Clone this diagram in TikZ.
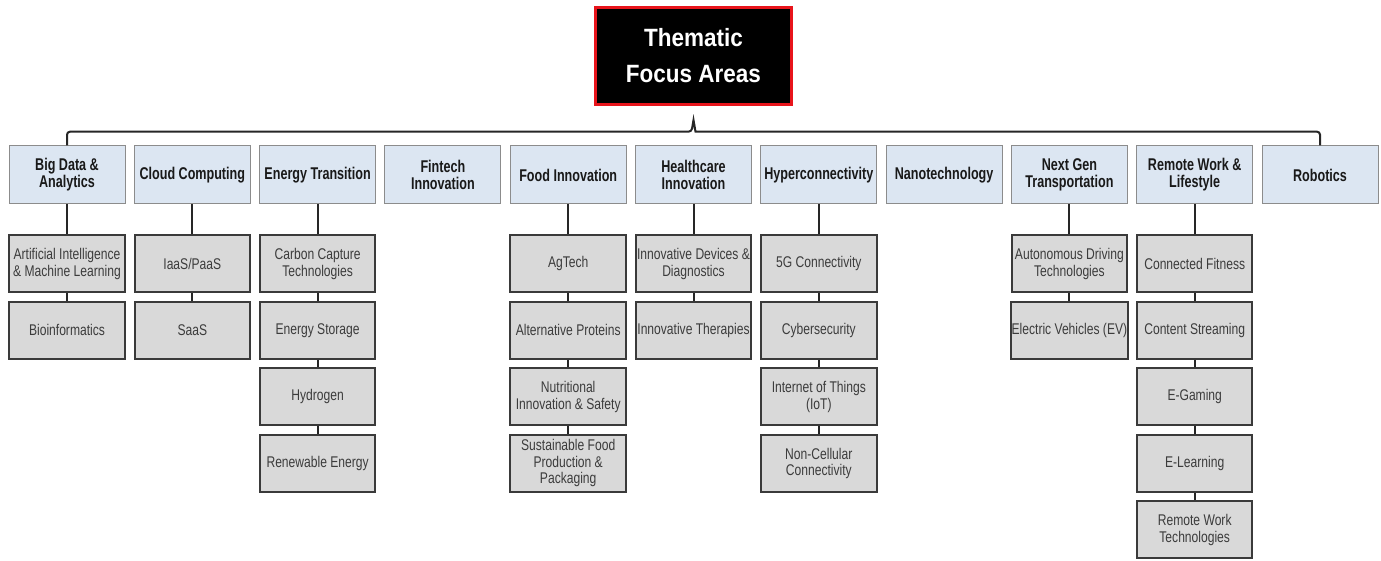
\documentclass[tikz,border=0pt]{standalone}
\usepackage{fontspec}
\setmainfont{Liberation Sans}
\newfontfamily\leaffont{Liberation Sans}[FakeStretch=0.78]
\newfontfamily\catfont{Liberation Sans}[FakeStretch=0.74]
\newfontfamily\titlefont{Liberation Sans}[FakeStretch=0.9]
\definecolor{catblue}{HTML}{DCE6F2}
\definecolor{catline}{HTML}{8C8C8C}
\definecolor{leafgray}{HTML}{D9D9D9}
\definecolor{leafline}{HTML}{3A3A3A}
\definecolor{leaftext}{HTML}{3C3C3C}
\definecolor{titlered}{HTML}{E8141B}
\tikzset{
  titlebox/.style={draw=titlered, line width=3pt, fill=black, text=white,
    minimum width=196pt, minimum height=97pt, align=center,
    font=\titlefont\bfseries\fontsize{25}{36}\selectfont},
  catbox/.style={draw=catline, line width=1pt, fill=catblue, text=black!90,
    minimum width=116pt, minimum height=58pt, align=center, inner sep=1pt,
    font=\catfont\bfseries\fontsize{17}{17}\selectfont},
  leafbox/.style={draw=leafline, line width=2pt, fill=leafgray, text=leaftext,
    minimum width=115.5pt, minimum height=57pt, align=center, inner sep=1pt,
    font=\leaffont\fontsize{15.5}{16.5}\selectfont},
  link/.style={draw=black!85, line width=2pt},
}
\begin{document}
\begin{tikzpicture}[x=1pt,y=-1pt]
\useasboundingbox (0,0) rectangle (1381,561);
\node[titlebox] (top) at (693.5,56) {Thematic\\Focus Areas};

% categories
\node[catbox] (c0) at (67,175) {Big Data \&\\Analytics};
\node[catbox] (c1) at (192.3,175) {Cloud Computing};
\node[catbox] (c2) at (317.6,175) {Energy Transition};
\node[catbox] (c3) at (442.9,175) {Fintech\\Innovation};
\node[catbox] (c4) at (568.2,175) {Food Innovation};
\node[catbox] (c5) at (693.5,175) {Healthcare\\Innovation};
\node[catbox] (c6) at (818.8,175) {Hyperconnectivity};
\node[catbox] (c7) at (944.1,175) {Nanotechnology};
\node[catbox] (c8) at (1069.4,175) {Next Gen\\Transportation};
\node[catbox] (c9) at (1194.7,175) {Remote Work \&\\Lifestyle};
\node[catbox] (c10) at (1320,175) {Robotics};

% bracket
\coordinate (tipL) at (691.5,131.7);
\coordinate (tipT) at (693.5,120);
\coordinate (tipR) at (695.5,131.7);
\draw[link, line width=2pt] (c0.north) [rounded corners=3pt] |- (tipL) [sharp corners] -- (tipT) -- (tipR) [rounded corners=3pt] -| (c10.north);

% leaves: rows centers 263.75, 330.25, 396.75, 463.25, 529.75
\node[leafbox] (l0a) at (67,263.75) {Artificial Intelligence\\\& Machine Learning};
\node[leafbox] (l0b) at (67,330.25) {Bioinformatics};

\node[leafbox] (l1a) at (192.3,263.75) {IaaS/PaaS};
\node[leafbox] (l1b) at (192.3,330.25) {SaaS};

\node[leafbox] (l2a) at (317.6,263.75) {Carbon Capture\\Technologies};
\node[leafbox] (l2b) at (317.6,330.25) {Energy Storage};
\node[leafbox] (l2c) at (317.6,396.75) {Hydrogen};
\node[leafbox] (l2d) at (317.6,463.25) {Renewable Energy};

\node[leafbox] (l4a) at (568.2,263.75) {AgTech};
\node[leafbox] (l4b) at (568.2,330.25) {Alternative Proteins};
\node[leafbox] (l4c) at (568.2,396.75) {Nutritional\\Innovation \& Safety};
\node[leafbox] (l4d) at (568.2,463.25) {Sustainable Food\\Production \&\\Packaging};

\node[leafbox] (l5a) at (693.5,263.75) {Innovative Devices \&\\Diagnostics};
\node[leafbox] (l5b) at (693.5,330.25) {Innovative Therapies};

\node[leafbox] (l6a) at (818.8,263.75) {5G Connectivity};
\node[leafbox] (l6b) at (818.8,330.25) {Cybersecurity};
\node[leafbox] (l6c) at (818.8,396.75) {Internet of Things\\(IoT)};
\node[leafbox] (l6d) at (818.8,463.25) {Non-Cellular\\Connectivity};

\node[leafbox] (l8a) at (1069.4,263.75) {Autonomous Driving\\Technologies};
\node[leafbox] (l8b) at (1069.4,330.25) {Electric Vehicles (EV)};

\node[leafbox] (l9a) at (1194.7,263.75) {Connected Fitness};
\node[leafbox] (l9b) at (1194.7,330.25) {Content Streaming};
\node[leafbox] (l9c) at (1194.7,396.75) {E-Gaming};
\node[leafbox] (l9d) at (1194.7,463.25) {E-Learning};
\node[leafbox] (l9e) at (1194.7,529.75) {Remote Work\\Technologies};

% connectors
\draw[link] (c0.south) -- (l0a.north); \draw[link] (l0a.south) -- (l0b.north);
\draw[link] (c1.south) -- (l1a.north); \draw[link] (l1a.south) -- (l1b.north);
\draw[link] (c2.south) -- (l2a.north); \draw[link] (l2a.south) -- (l2b.north);
\draw[link] (l2b.south) -- (l2c.north); \draw[link] (l2c.south) -- (l2d.north);
\draw[link] (c4.south) -- (l4a.north); \draw[link] (l4a.south) -- (l4b.north);
\draw[link] (l4b.south) -- (l4c.north); \draw[link] (l4c.south) -- (l4d.north);
\draw[link] (c5.south) -- (l5a.north); \draw[link] (l5a.south) -- (l5b.north);
\draw[link] (c6.south) -- (l6a.north); \draw[link] (l6a.south) -- (l6b.north);
\draw[link] (l6b.south) -- (l6c.north); \draw[link] (l6c.south) -- (l6d.north);
\draw[link] (c8.south) -- (l8a.north); \draw[link] (l8a.south) -- (l8b.north);
\draw[link] (c9.south) -- (l9a.north); \draw[link] (l9a.south) -- (l9b.north);
\draw[link] (l9b.south) -- (l9c.north); \draw[link] (l9c.south) -- (l9d.north);
\draw[link] (l9d.south) -- (l9e.north);
\end{tikzpicture}
\end{document}
